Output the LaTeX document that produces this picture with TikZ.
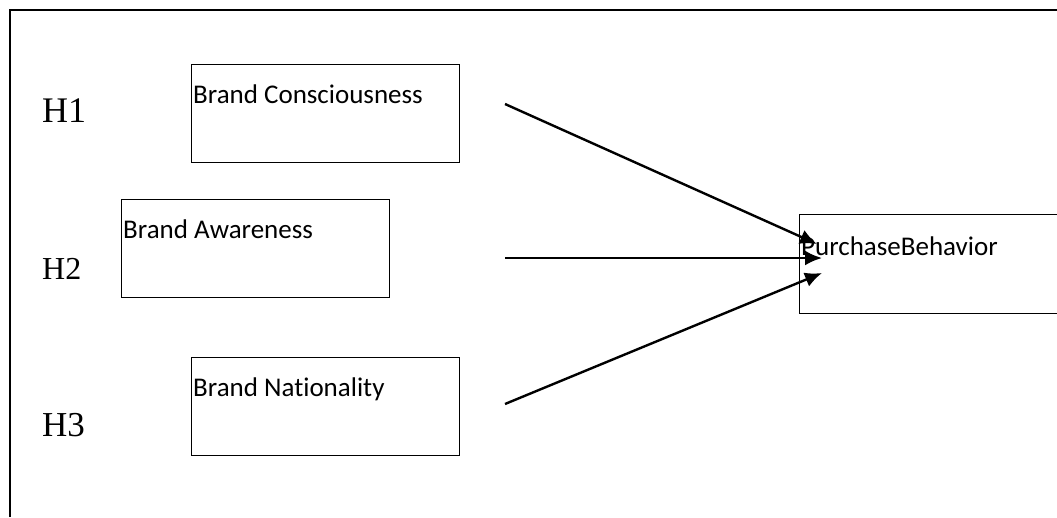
\documentclass[tikz,border=0pt]{standalone}
\usepackage{fontspec}
\setmainfont{Liberation Serif}
\newfontfamily\carlitofont[Ligatures={NoCommon}]{Carlito}
\usetikzlibrary{arrows.meta}
\begin{document}
\begin{tikzpicture}[x=1pt,y=-1pt,
  boxstyle/.style={draw, line width=1.2pt, minimum width=#1, minimum height=98pt, inner sep=0pt, anchor=north west},
  boxstyle/.default=268pt,
  boxtext/.style={anchor=base west, inner sep=0pt, font=\carlitofont\fontsize{27}{32}\selectfont},
  hlabel/.style={anchor=base west, inner sep=0pt},
  arr/.style={line width=2.4pt, -{Latex[length=17pt,width=15pt]}}]
\useasboundingbox (0,0) rectangle (1057,517);
\draw[line width=1.5pt] (10,517) -- (10,10) -- (1057,10);
\node[boxstyle] (bc) at (191,64) {};
\node[boxstyle] (ba) at (121,199) {};
\node[boxstyle] (bn) at (191,357) {};
\node[boxstyle=262pt, minimum height=99pt] (pb) at (799,214) {};
\node[boxtext] (bct) at (193,103) {Brand Consciousness};
\node[boxtext] (bat) at (123,238) {Brand Awareness};
\node[boxtext] (bnt) at (193,396) {Brand Nationality};
\node[boxtext] (pbt) at (801,255) {PurchaseBehavior};
\node[hlabel, font=\fontsize{36}{40}\selectfont] (h1) at (42,122) {H1};
\node[hlabel, font=\fontsize{32}{36}\selectfont] (h2) at (42,279) {H2};
\node[hlabel, font=\fontsize{35}{40}\selectfont] (h3) at (42,436) {H3};
\coordinate (s1) at (505,104);
\coordinate (s2) at (505,258);
\coordinate (s3) at (505,404);
\coordinate (e1) at (817,244);
\coordinate (e2) at (822,258);
\coordinate (e3) at (822,273);
\draw[arr] (s1) -- (e1);
\draw[arr] (s2) -- (e2);
\draw[arr] (s3) -- (e3);
\end{tikzpicture}
\end{document}
